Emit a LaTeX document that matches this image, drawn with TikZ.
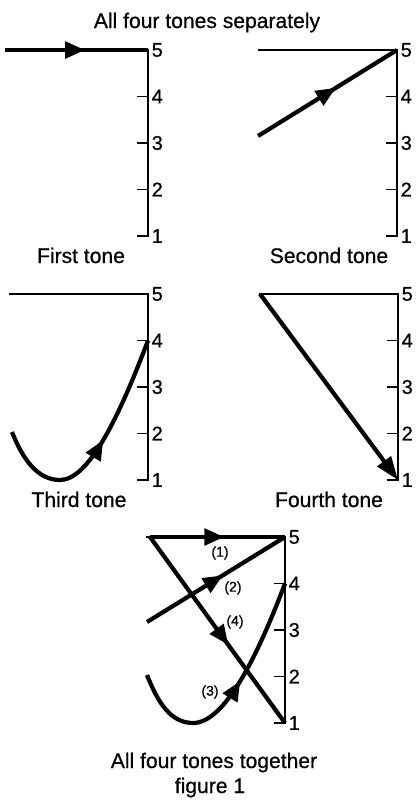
\documentclass[tikz,border=0pt]{standalone}
\usepackage{fontspec}
\setmainfont{Liberation Sans}[FakeBold=0.6]
\usetikzlibrary{arrows.meta,decorations.markings}

% axis with level ticks 1..5, origin at level 1
\tikzset{
  toneframe/.pic={
    \draw[axis] (-139,186) -- (0,186) -- (0,0) -- (-11,0);
    \foreach \l in {2,3,4}
      \draw[axis] (-11,{(\l-1)*46.5}) -- (0,{(\l-1)*46.5});
    \foreach \l in {1,...,5}
      \node[lvl] at (0,{(\l-1)*46.5}) {\l};
  }
}

\begin{document}
\begin{tikzpicture}[x=0.03cm, y=0.03cm,
  axis/.style={line width=1.6pt},
  tone/.style={line width=3.6pt},
  lvl/.style={anchor=west, inner sep=0pt, xshift=3pt, font=\fontsize{17}{17}\selectfont},
  caption/.style={anchor=base, inner sep=0pt, font=\fontsize{18}{20}\selectfont},
  tag/.style={inner sep=0pt, font=\fontsize{12}{14}\selectfont},
  midarrow/.style={postaction={decorate}, decoration={markings,
    mark=at position #1 with {\arrow{Triangle[length=17pt,width=14pt]}}}},
  endarrow/.style={-{Triangle[length=20pt,width=14pt]}}
]
  \useasboundingbox (0,0) rectangle (415,-803);

  \node[caption] (title) at (207,-28) {All four tones separately};

  % first tone
  \begin{scope}[shift={(148,-236)}]
    \pic {toneframe};
    \coordinate (a1) at (-143,186);
    \coordinate (b1) at (0,186);
    \draw[tone, midarrow=0.56] (a1) -- (b1);
  \end{scope}
  \node[caption] (cap1) at (81,-263) {First tone};

  % second tone
  \begin{scope}[shift={(397,-236)}]
    \pic {toneframe};
    \coordinate (a2) at (-139,100);
    \coordinate (b2) at (0,186);
    \draw[tone, midarrow=0.56] (a2) -- (b2);
  \end{scope}
  \node[caption] (cap2) at (329,-263) {Second tone};

  % third tone
  \begin{scope}[shift={(148,-480)}]
    \pic {toneframe};
    \coordinate (a3) at (-136,48);
    \coordinate (m3) at (-88,0);
    \coordinate (b3) at (0,139.5);
    \draw[tone, midarrow=0.55] (a3) .. controls (-125,20) and (-110,0) .. (m3)
      .. controls (-60,0) and (-30,60) .. (b3);
  \end{scope}
  \node[caption] (cap3) at (79,-507) {Third tone};

  % fourth tone
  \begin{scope}[shift={(398,-480)}]
    \pic {toneframe};
    \coordinate (a4) at (-138,186);
    \coordinate (b4) at (0,0);
    \draw[tone, endarrow] (a4) -- (b4);
  \end{scope}
  \node[caption] (cap4) at (329,-507) {Fourth tone};

  % all four together
  \begin{scope}[shift={(285,-723)}]
    \pic {toneframe};
    \coordinate (t1a) at (-135,186);
    \coordinate (t1b) at (0,186);
    \coordinate (t2a) at (-138,101);
    \coordinate (t3a) at (-138,48);
    \coordinate (t3m) at (-92,0);
    \coordinate (t3b) at (0,139.5);
    \coordinate (t4b) at (0,0);
    \draw[tone, midarrow=0.55] (t1a) -- (t1b);
    \draw[tone, midarrow=0.55] (t2a) -- (t1b);
    \draw[tone, midarrow=0.56] (t3a) .. controls (-127,20) and (-114,0) .. (t3m)
      .. controls (-62,0) and (-30,60) .. (t3b);
    \draw[tone, midarrow=0.58] (t1a) -- (t4b);
    \node[tag] (n1) at (-65,170) {(1)};
    \node[tag] (n2) at (-52,135) {(2)};
    \node[tag] (n3) at (-75,31) {(3)};
    \node[tag] (n4) at (-50,101) {(4)};
  \end{scope}
  \node[caption] (cap5) at (214,-768) {All four tones together};
  \node[caption] (fig) at (210,-793) {figure 1};
\end{tikzpicture}
\end{document}
